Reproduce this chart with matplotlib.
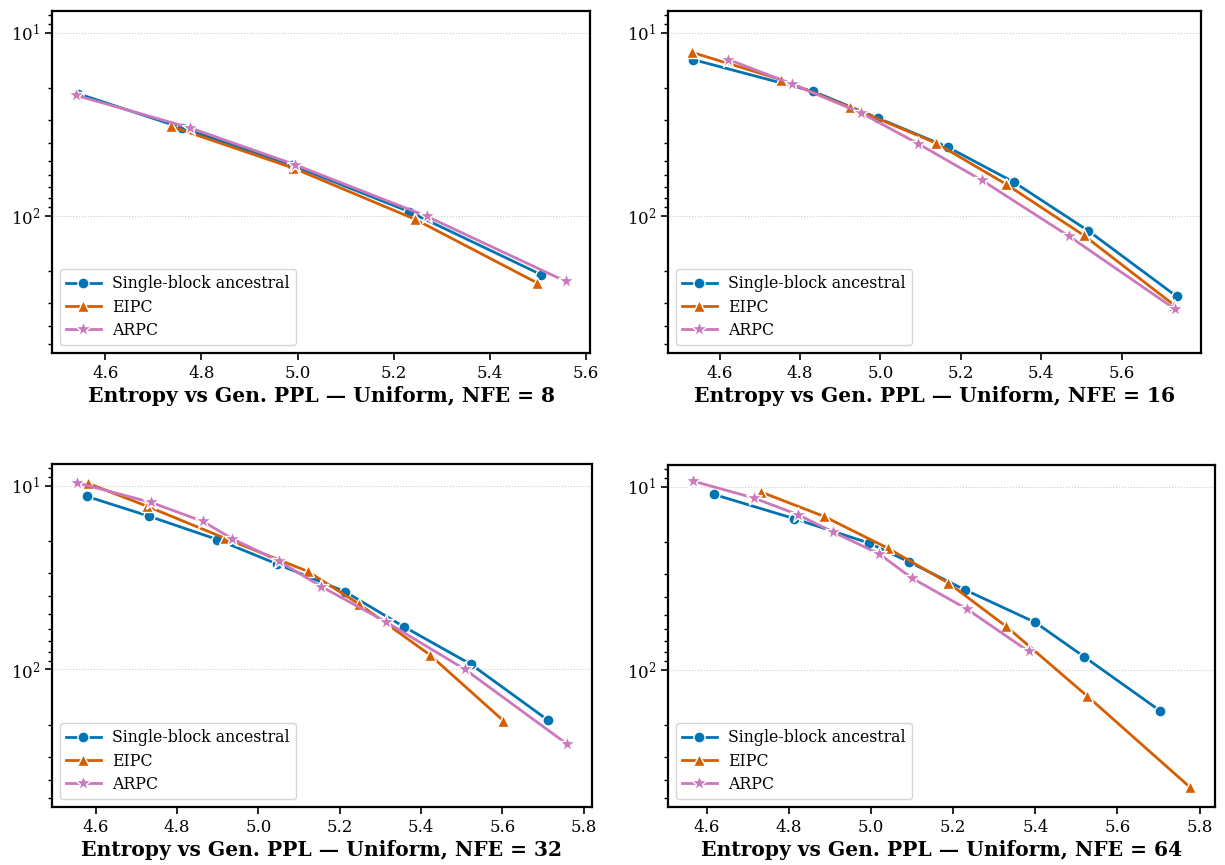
import matplotlib
matplotlib.use("Agg")
from matplotlib import pyplot as plt

# entropy (x) and generative perplexity (y) per NFE budget
nfe_list = [8, 16, 32, 64]

single_x = {
    8: [4.543, 4.760, 4.989, 5.232, 5.507],
    16: [4.534, 4.833, 4.993, 5.169, 5.333, 5.517, 5.737],
    32: [4.578, 4.730, 4.899, 5.045, 5.213, 5.357, 5.523, 5.712],
    64: [4.617, 4.812, 4.995, 5.092, 5.228, 5.400, 5.519, 5.703],
}
single_y = {
    8: [21.5, 33.1, 52.9, 95.0, 210.0],
    16: [14.0, 20.9, 29.2, 42.3, 65.7, 120.8, 276.0],
    32: [11.4, 14.6, 19.6, 26.6, 37.7, 58.4, 93.9, 189.0],
    64: [11.0, 14.9, 20.3, 25.7, 36.5, 55.1, 84.9, 167.0],
}
eipc_x = {
    8: [4.736, 4.990, 5.245, 5.497],
    16: [4.532, 4.752, 4.925, 5.138, 5.312, 5.506, 5.730],
    32: [4.582, 4.726, 4.918, 5.121, 5.248, 5.421, 5.602],
    64: [4.733, 4.885, 5.040, 5.188, 5.329, 5.526, 5.777],
}
eipc_y = {
    8: [32.4, 54.7, 104.7, 232.0],
    16: [12.8, 18.0, 25.5, 40.0, 67.1, 128.0, 307.0],
    32: [9.7, 12.9, 19.3, 29.2, 44.1, 83.1, 190.0],
    64: [10.7, 14.5, 21.6, 33.5, 57.9, 139.0, 439.0],
}
arpc_x = {
    8: [4.540, 4.777, 4.994, 5.268, 5.557],
    16: [4.622, 4.779, 4.952, 5.094, 5.253, 5.470, 5.733],
    32: [4.553, 4.736, 4.863, 4.936, 5.050, 5.155, 5.314, 5.508, 5.760],
    64: [4.566, 4.714, 4.822, 4.908, 5.019, 5.099, 5.233, 5.384],
}
arpc_y = {
    8: [22.0, 33.1, 52.5, 100.5, 228.0],
    16: [14.0, 19.0, 27.4, 40.4, 64.1, 129.7, 324.0],
    32: [9.6, 12.3, 15.6, 19.4, 25.7, 35.4, 55.1, 100.0, 256.0],
    64: [9.3, 11.5, 14.2, 17.7, 23.2, 31.5, 46.5, 79.4],
}

series = [
    ("Single-block ancestral", single_x, single_y, "#0173b2", "o", 8),
    ("EIPC", eipc_x, eipc_y, "#d55e00", "^", 8),
    ("ARPC", arpc_x, arpc_y, "#cc78bc", "*", 12),
]

plt.rcParams["font.family"] = ["DejaVu Serif"]
plt.rcParams["font.size"] = 12
plt.rcParams["mathtext.fontset"] = "dejavuserif"

W, H = 1225, 865
fig = plt.figure(figsize=(W / 100, H / 100), dpi=100)

# axes boxes in pixels: left, top, right, bottom
boxes = [
    (52, 11, 590, 353),
    (668, 11, 1201, 353),
    (52, 464, 592, 807),
    (668, 465, 1215, 807),
]

for nfe, (l, t, r, b) in zip(nfe_list, boxes):
    ax = fig.add_axes([l / W, 1 - b / H, (r - l) / W, (b - t) / H])
    for name, xs, ys, color, marker, ms in series:
        ax.plot(xs[nfe], ys[nfe], label=name, color=color, marker=marker,
                markersize=ms, markeredgecolor="white", markeredgewidth=1.0,
                linewidth=2, zorder=3)
    ax.set_yscale("log")
    ax.set_ylim(562, 7.6)
    ax.grid(True, which="major", axis="y", linestyle=":", color="#cccccc", linewidth=0.8)
    for s in ax.spines.values():
        s.set_linewidth(1.6)
    ax.tick_params(which="major", length=5, width=1.2, labelsize=12)
    ax.tick_params(which="minor", length=3, width=1.0)
    ax.set_xlabel(f"Entropy vs Gen. PPL — Uniform, NFE = {nfe}",
                  fontsize=14.6, fontweight="bold", labelpad=3)
    ax.legend(loc="lower left", fontsize=11.3, frameon=True, fancybox=True,
              borderaxespad=0.5, handlelength=2.2, labelspacing=0.4,
              handletextpad=0.75)

plt.savefig("out.png", dpi=100)
